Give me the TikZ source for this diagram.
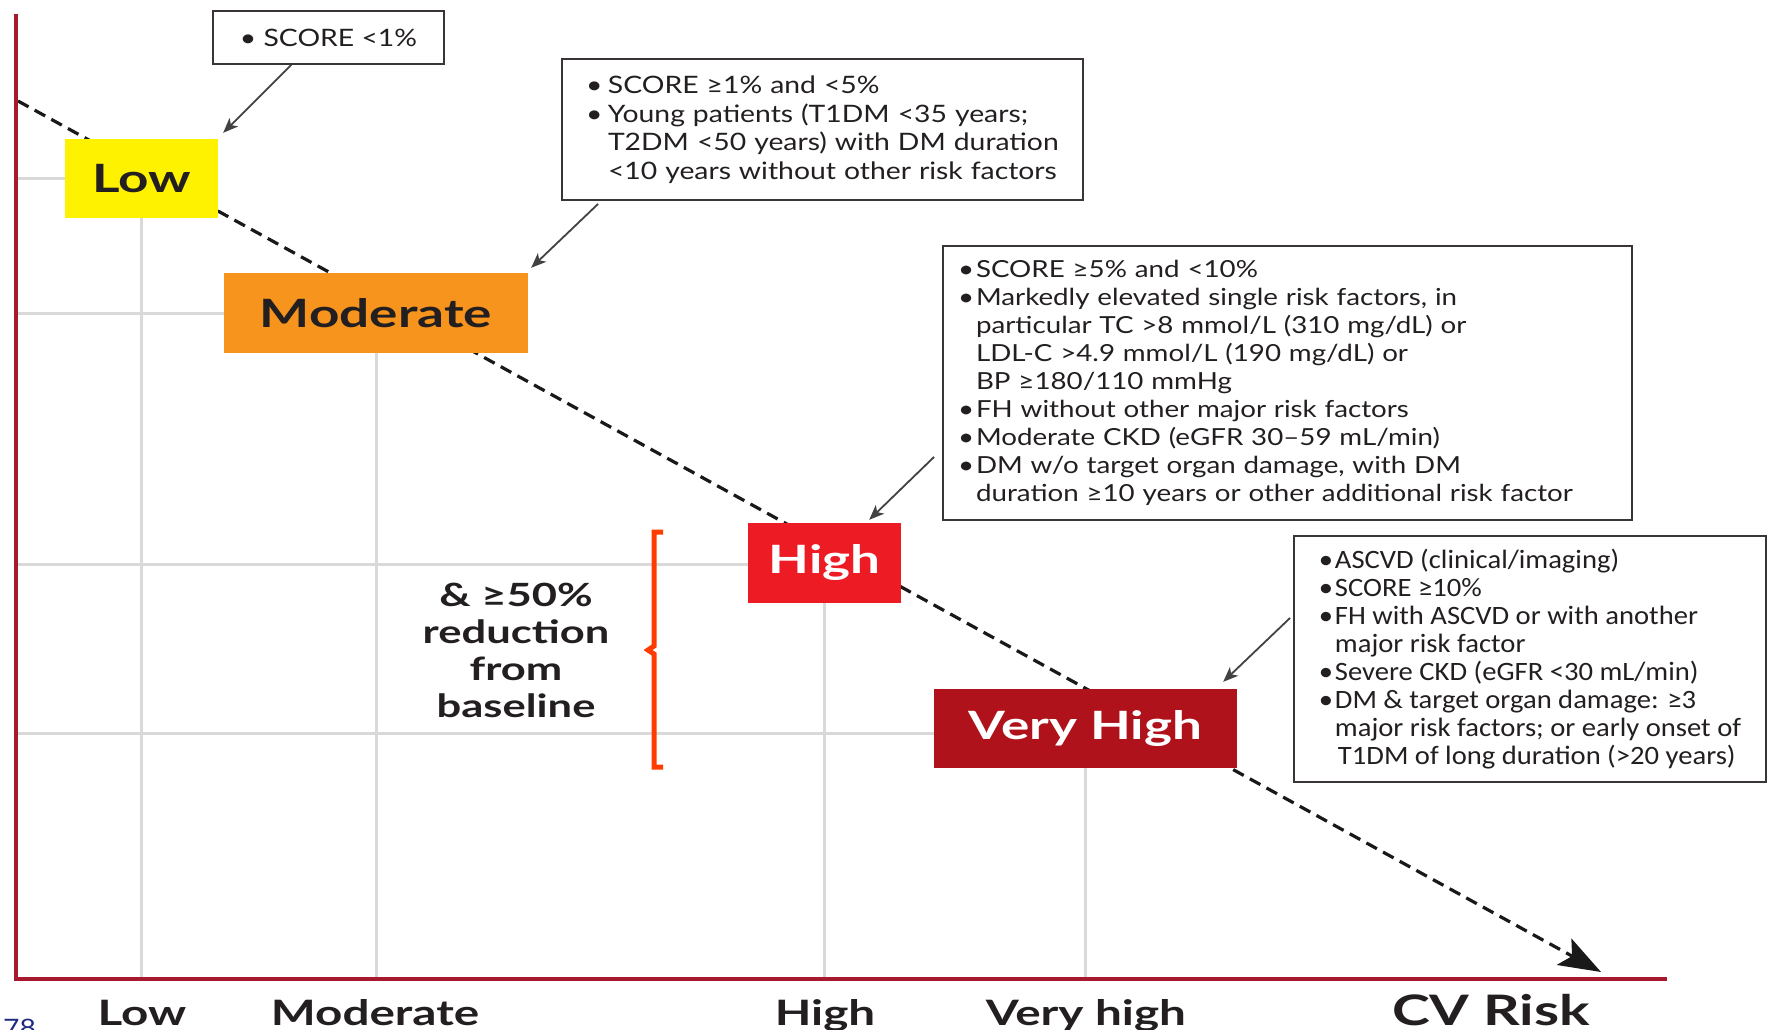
\documentclass[tikz,border=0pt]{standalone}
\usepackage{fontspec}
\setmainfont{Lato}[FakeStretch=1.18]
\newfontfamily\lblfont{Lato}[FakeStretch=1.36]
\newfontfamily\boxfourfont{Carlito}[FakeStretch=1.08]
\usetikzlibrary{arrows.meta,calc,backgrounds}
\definecolor{axisred}{HTML}{A6192E}
\definecolor{gridgray}{HTML}{D9D9D9}
\definecolor{lowyellow}{HTML}{FFF200}
\definecolor{modorange}{HTML}{F7941D}
\definecolor{highred}{HTML}{ED1C24}
\definecolor{vhred}{HTML}{AF121A}
\definecolor{bracketred}{HTML}{FF3C00}
\definecolor{inkdark}{HTML}{231F20}
\definecolor{pagenum}{HTML}{1F2A80}
\newcommand{\bitem}[1]{\makebox[#1][l]{\textbullet}}
\newcommand{\bcont}[1]{\hspace*{#1}}
\begin{document}
\begin{tikzpicture}[x=1pt,y=-1pt,
  riskbox/.style={inner sep=0pt, font=\lblfont\bfseries\fontsize{39}{40}\selectfont, text=inkdark},
  infobox/.style={draw=inkdark!90, line width=1.8pt, align=left, inner ysep=0pt, text=inkdark},
  conn/.style={draw=inkdark!85, line width=1.8pt, -{Stealth[length=15pt,width=12pt,inset=4pt]}},
  gridline/.style={gridgray, line width=3pt},
  axisline/.style={axisred, line width=4.5pt},
  dashline/.style={black!90, line width=3.2pt, dash pattern=on 12pt off 7pt, -{Stealth[length=42pt,width=30pt,inset=9pt]}},
  bracketline/.style={bracketred, line width=5pt, line join=miter},
  axislabel/.style={anchor=base, inner sep=0pt, text=inkdark, font=\lblfont\bfseries\fontsize{35}{40}\selectfont},
  reduclabel/.style={align=center, inner sep=0pt, text=inkdark, font=\lblfont\bfseries\fontsize{32}{37}\selectfont}
]
\useasboundingbox (0,0) rectangle (1768,1029);

% risk boxes
\node[riskbox, fill=lowyellow, minimum width=153pt, minimum height=79pt] (low) at (141.5,178.5) {Low};
\node[riskbox, fill=modorange, minimum width=304pt, minimum height=80pt] (mod) at (376,313) {Moderate};
\node[riskbox, fill=highred, text=white, minimum width=153pt, minimum height=80pt] (high) at (824.5,563) {High};
\node[riskbox, fill=vhred, text=white, minimum width=303pt, minimum height=79pt] (vh) at (1085.5,728.5) {Very High};

% info boxes
\node[infobox, align=center, inner xsep=0pt, minimum width=231pt, minimum height=53pt,
  font=\fontsize{24}{28}\selectfont] (b1) at (328.5,37.5) {\textbullet\ SCORE <1\%};
\node[infobox, inner xsep=24pt, text width=473pt, minimum height=141pt,
  font=\fontsize{24}{28.5}\selectfont] (b2) at (822.5,129.5) {%
\bitem{22pt}SCORE ≥1\% and <5\%\\
\bitem{22pt}Young patients (T1DM <35 years;\\
\bcont{22pt}T2DM <50 years) with DM duration\\
\bcont{22pt}<10 years without other risk factors};
\node[infobox, inner xsep=15pt, text width=659pt, minimum height=274pt,
  font=\fontsize{23.5}{28}\selectfont] (b3) at (1287.5,383) {%
\bitem{18pt}SCORE ≥5\% and <10\%\\
\bitem{18pt}Markedly elevated single risk factors, in\\
\bcont{18pt}particular TC >8 mmol/L (310 mg/dL) or\\
\bcont{18pt}LDL-C >4.9 mmol/L (190 mg/dL) or\\
\bcont{18pt}BP ≥180/110 mmHg\\
\bitem{18pt}FH without other major risk factors\\
\bitem{18pt}Moderate CKD (eGFR 30–59 mL/min)\\
\bitem{18pt}DM w/o target organ damage, with DM\\
\bcont{18pt}duration ≥10 years or other additional risk factor};
\node[infobox, inner xsep=0pt, minimum width=472pt, minimum height=246pt,
  font=\boxfourfont\fontsize{26.5}{28}\selectfont] (b4) at (1530,659) {%
\bitem{16pt}ASCVD (clinical/imaging)\\
\bitem{16pt}SCORE ≥10\%\\
\bitem{16pt}FH with ASCVD or with another\\
\bcont{16pt}major risk factor\\
\bitem{16pt}Severe CKD (eGFR <30 mL/min)\\
\bitem{16pt}DM \& target organ damage: ≥3\\
\bcont{16pt}major risk factors; or early onset of\\
\bcont{19pt}T1DM of long duration (>20 years)};

% axes coordinates
\coordinate (ytop) at (16,14);
\coordinate (origin) at (16,979);
\coordinate (xend) at (1667,979);
\coordinate (dstart) at (18,101);
\coordinate (dend) at (1601,972);

\begin{scope}[on background layer]
  \fill[white] (0,0) rectangle (1768,1029);
  % grid
  \draw[gridline] (low.west -| origin) -- (low.west);
  \draw[gridline] (mod.west -| origin) -- (mod.west);
  \draw[gridline] ([yshift=-1pt]high.west -| origin) -- ([yshift=-1pt]high.west);
  \draw[gridline] ([yshift=-5pt]vh.west -| origin) -- ([yshift=-5pt]vh.west);
  \foreach \n in {low,mod,high,vh}{
    \draw[gridline] (\n.south) -- (\n.south |- origin);
  }
  % trend line
  \draw[dashline] (dstart) -- (dend);
\end{scope}

% axes
\draw[axisline] (ytop) -- (origin) -- (xend);

% connectors
\draw[conn] ($(b1.south west)!0.34!(b1.south east)$) -- ([shift={(5,-6)}]low.north east);
\draw[conn] ([shift={(37,3)}]b2.south west) -- ([shift={(3,-5)}]mod.north east);
\draw[conn] ([shift={(-8,-64)}]b3.south west) -- ([shift={(-32,-3)}]high.north east);
\draw[conn] ([shift={(-3,-165)}]b4.south west) -- ([shift={(-14,-7)}]vh.north east);

% bracket
\draw[bracketline] (663,532) -- (654,532) -- (654,646) -- (648,650) -- (654,654) -- (654,767) -- (663,767);
\node[reduclabel] (redu) at (516,650) {\& ≥50\%\\reduction\\from\\baseline};

% axis labels
\node[axislabel] (xlow) at (142,1025) {Low};
\node[axislabel] (xmod) at (375,1025) {Moderate};
\node[axislabel] (xhigh) at (825,1025) {High};
\node[axislabel] (xvh) at (1086,1025) {Very high};
\node[axislabel, font=\lblfont\bfseries\fontsize{42}{48}\selectfont] (xcv) at (1491,1025) {CV Risk};
\node[anchor=north west, inner sep=0pt, text=pagenum, font=\fontsize{24}{26}\selectfont] (pnum) at (3,1019) {78};
\end{tikzpicture}
\end{document}
